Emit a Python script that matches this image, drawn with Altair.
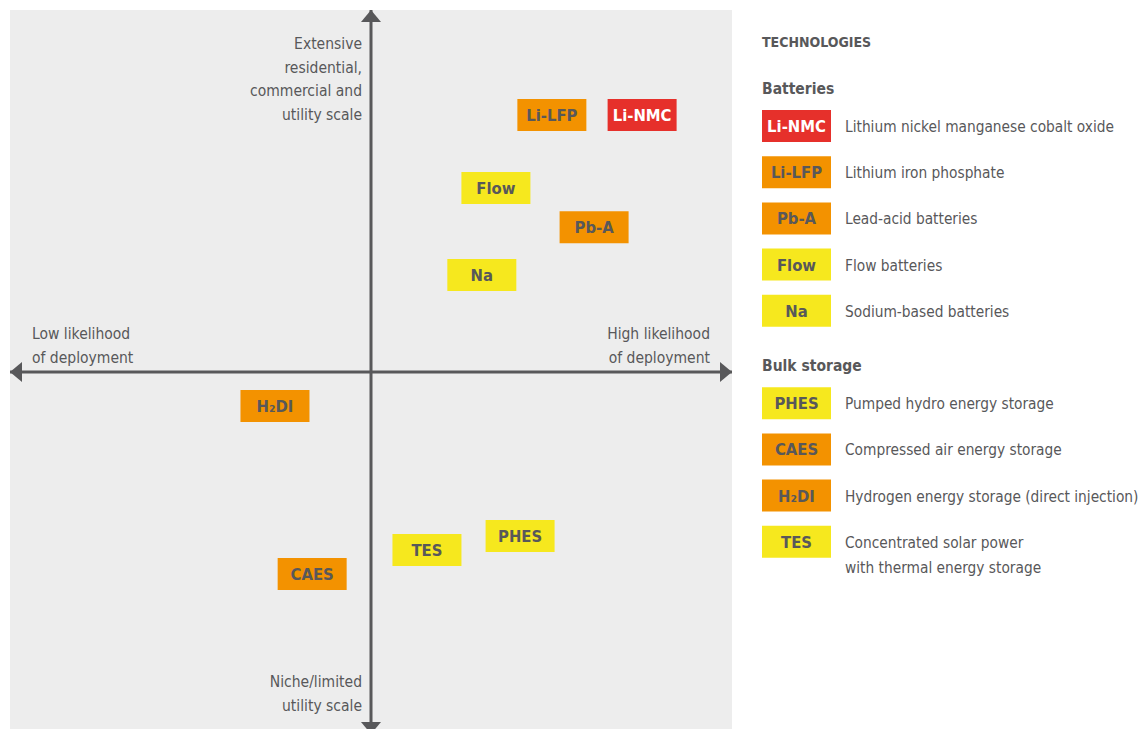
import altair as alt
import pandas as pd

FONT = "DejaVu Sans Condensed, DejaVu Sans, sans-serif"
INK = "#58585a"
PANEL = "#ededed"

# ---- data -------------------------------------------------------------
tech = ["Li-NMC", "Li-LFP", "Pb-A", "Flow", "Na", "PHES", "CAES", "H₂DI", "TES"]
group = ["Batteries"] * 5 + ["Bulk storage"] * 4
colour_class = ["red", "orange", "orange", "yellow", "yellow",
                "yellow", "orange", "orange", "yellow"]
# horizontal: likelihood of deployment (-1 low .. 1 high)
likelihood = [0.751, 0.501, 0.618, 0.346, 0.307, 0.413, -0.163, -0.266, 0.155]
# vertical: scale (-1 niche .. 1 extensive)
scale_level = [0.710, 0.710, 0.400, 0.508, 0.268, -0.453, -0.558, -0.094, -0.492]
description = [
    "Lithium nickel manganese cobalt oxide",
    "Lithium iron phosphate",
    "Lead-acid batteries",
    "Flow batteries",
    "Sodium-based batteries",
    "Pumped hydro energy storage",
    "Compressed air energy storage",
    "Hydrogen energy storage (direct injection)",
    "Concentrated solar power\nwith thermal energy storage",
]
legend_row = [0, 1, 2, 3, 4, 6, 7, 8, 9]

legend_title = ["TECHNOLOGIES"]
legend_title_row = [-2]
group_headers = ["Batteries", "Bulk storage"]
group_header_row = [-1, 5]

axis_min, axis_max = -1, 1
top_label = "Extensive\nresidential,\ncommercial and\nutility scale"
bottom_label = "Niche/limited\nutility scale"
left_label = "Low likelihood\nof deployment"
right_label = "High likelihood\nof deployment"

# ---- tables -----------------------------------------------------------
df = pd.DataFrame(dict(tech=tech, group=group, cls=colour_class, x=likelihood,
                       y=scale_level, desc=description, row=legend_row))
axes_df = pd.DataFrame({"x": [axis_min, 0], "x2": [axis_max, 0],
                        "y": [0, axis_min], "y2": [0, axis_max]})
arrows_df = pd.DataFrame({"x": [0, 0, axis_min, axis_max],
                          "y": [axis_max, axis_min, 0, 0],
                          "dir": ["up", "down", "left", "right"]})

xs = alt.Scale(domain=[axis_min, axis_max], range=[0, 722])
ys = alt.Scale(domain=[axis_min, axis_max], range=[724, 0])
fill_scale = alt.Scale(domain=["red", "orange", "yellow"],
                       range=["#e6302b", "#f39200", "#f6e81e"])
arrow_shapes = alt.Scale(domain=["up", "down", "left", "right"],
                         range=["M0,0L1,1.2L-1,1.2Z", "M0,0L1,-1.2L-1,-1.2Z",
                                "M0,0L1.2,-1L1.2,1Z", "M0,0L-1.2,-1L-1.2,1Z"])

X = alt.X("x:Q", scale=xs, axis=None)
Y = alt.Y("y:Q", scale=ys, axis=None)

rules = alt.Chart(axes_df).mark_rule(color=INK, strokeWidth=3, clip=True).encode(
    x=X, x2="x2:Q", y=Y, y2="y2:Q")

heads = alt.Chart(arrows_df).mark_point(
    filled=True, size=400, opacity=1, strokeWidth=0, color=INK, clip=True
).encode(x=X, y=Y, shape=alt.Shape("dir:N", scale=arrow_shapes, legend=None))


def axis_text(text, xv, yv, **kw):
    d = pd.DataFrame({"t": [text], "x": [xv], "y": [yv]})
    return alt.Chart(d).mark_text(font=FONT, fontSize=15.5, color=INK,
                                  lineBreak="\n", lineHeight=23.5, **kw).encode(
        x=X, y=Y, text="t:N")


top_t = axis_text(top_label, 0, axis_max, align="right", baseline="top", dx=-9, dy=27)
bot_t = axis_text(bottom_label, 0, axis_min, align="right", baseline="bottom", dx=-9, dy=-44)
left_t = axis_text(left_label, axis_min, 0, align="left", baseline="bottom", dx=22, dy=-30)
right_t = axis_text(right_label, axis_max, 0, align="right", baseline="bottom", dx=-22, dy=-30)

boxes = alt.Chart(df).mark_rect(
    xOffset=-34.5, x2Offset=34.5, yOffset=-16, y2Offset=16
).encode(x=X, x2="x:Q", y=Y, y2="y:Q",
         color=alt.Color("cls:N", scale=fill_scale, legend=None))

box_text = alt.Chart(df).mark_text(
    font=FONT, fontSize=16.5, fontWeight="bold", baseline="middle", dy=1
).encode(x=X, y=Y, text="tech:N",
         color=alt.condition("datum.cls == 'red'", alt.value("#ffffff"), alt.value(INK)))

quad = alt.layer(rules, heads, top_t, bot_t, left_t, right_t, boxes, box_text).properties(
    width=722, height=719, view=alt.ViewBackground(fill=PANEL, stroke=None))

# ---- legend -----------------------------------------------------------
ly = alt.Scale(domain=[0, 9], range=[116, 531.8])
LY = alt.Y("row:Q", scale=ly, axis=None)

leg_rect = alt.Chart(df).mark_rect(yOffset=-16, y2Offset=16).encode(
    x=alt.value(0), x2=alt.value(69), y=LY, y2="row:Q",
    color=alt.Color("cls:N", scale=fill_scale, legend=None))
leg_code = alt.Chart(df).mark_text(
    font=FONT, fontSize=16.5, fontWeight="bold", baseline="middle", dy=1
).encode(x=alt.value(34.5), y=LY, text="tech:N",
         color=alt.condition("datum.cls == 'red'", alt.value("#ffffff"), alt.value(INK)))
leg_desc = alt.Chart(df).mark_text(
    font=FONT, fontSize=15.3, color=INK, align="left", baseline="alphabetic",
    lineBreak="\n", lineHeight=25, dy=6
).encode(x=alt.value(83), y=LY, text="desc:N")

title_df = pd.DataFrame({"t": legend_title, "row": legend_title_row})
hdr_df = pd.DataFrame({"t": group_headers, "row": group_header_row})
leg_title = alt.Chart(title_df).mark_text(
    font=FONT, fontSize=14, fontWeight="bold", color=INK, align="left",
    baseline="middle", dy=9).encode(x=alt.value(0), y=LY, text="t:N")
leg_hdr = alt.Chart(hdr_df).mark_text(
    font=FONT, fontSize=15.5, fontWeight="bold", color=INK, align="left",
    baseline="middle", dy=9).encode(x=alt.value(0), y=LY, text="t:N")

legend = alt.layer(leg_rect, leg_code, leg_desc, leg_title, leg_hdr).properties(
    width=370, height=719, view=alt.ViewBackground(stroke=None))

chart = alt.hconcat(quad, legend, spacing=30).properties(
    padding={"left": 2, "top": 2, "right": 0, "bottom": 0},
    background="#ffffff",
).configure_view(stroke=None)

chart.save("out.html", embed_options={"renderer": "svg", "actions": False})
